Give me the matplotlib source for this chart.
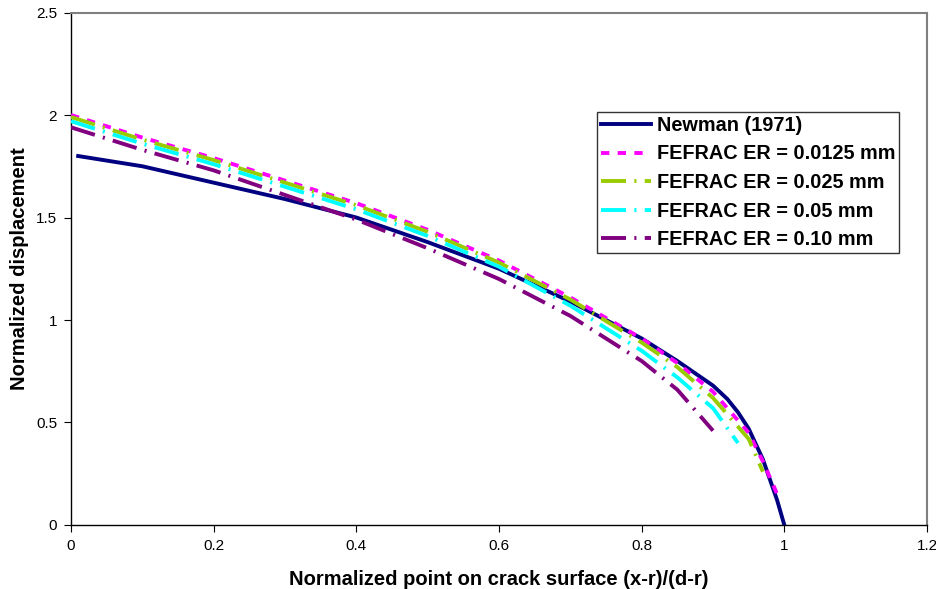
import numpy as np
import matplotlib.pyplot as plt

plt.rcParams['font.family'] = ['Liberation Sans', 'DejaVu Sans']
plt.rcParams['lines.scale_dashes'] = False

# Newman (1971) reference solution
x_newman = [0.01, 0.1, 0.2, 0.3, 0.4, 0.5, 0.6, 0.7, 0.8, 0.85, 0.9, 0.92, 0.935, 0.95, 0.97, 0.99, 1.0]
y_newman = [1.80, 1.75, 1.67, 1.59, 1.50, 1.38, 1.25, 1.09, 0.91, 0.80, 0.68, 0.615, 0.55, 0.47, 0.32, 0.12, 0.0]

# FEFRAC results for different element sizes
x_0125 = [0.0, 0.1, 0.2, 0.3, 0.4, 0.5, 0.6, 0.7, 0.8, 0.85, 0.9, 0.95, 0.97, 0.99]
y_0125 = [2.00, 1.89, 1.79, 1.68, 1.57, 1.44, 1.29, 1.11, 0.91, 0.79, 0.65, 0.45, 0.31, 0.15]

x_025 = [0.0, 0.1, 0.2, 0.3, 0.4, 0.5, 0.6, 0.7, 0.8, 0.85, 0.9, 0.95, 0.97]
y_025 = [1.99, 1.88, 1.78, 1.67, 1.56, 1.43, 1.28, 1.10, 0.89, 0.77, 0.62, 0.42, 0.26]

x_05 = [0.0, 0.1, 0.2, 0.3, 0.4, 0.5, 0.6, 0.7, 0.8, 0.85, 0.9, 0.935]
y_05 = [1.97, 1.86, 1.76, 1.65, 1.54, 1.41, 1.26, 1.07, 0.85, 0.72, 0.57, 0.40]

x_10 = [0.0, 0.1, 0.2, 0.3, 0.4, 0.5, 0.6, 0.7, 0.8, 0.85, 0.9]
y_10 = [1.94, 1.83, 1.73, 1.61, 1.49, 1.35, 1.20, 1.02, 0.80, 0.66, 0.46]

fig = plt.figure(figsize=(9.37, 5.89), dpi=100)
ax = fig.add_axes([0.0758, 0.1087, 0.9135, 0.870])

ax.plot(x_newman, y_newman, color='#000080', lw=2.8, label='Newman (1971)', zorder=3)
ax.plot(x_0125, y_0125, color='#FF00FF', lw=2.8, dashes=(6, 6), label='FEFRAC ER = 0.0125 mm', zorder=4)
ax.plot(x_025, y_025, color='#99CC00', lw=2.8, dashes=(18, 6, 1.5, 6), label='FEFRAC ER = 0.025 mm', zorder=4)
ax.plot(x_05, y_05, color='#00FFFF', lw=2.8, dashes=(18, 6, 1.5, 6), label='FEFRAC ER = 0.05 mm', zorder=4)
ax.plot(x_10, y_10, color='#800080', lw=2.8, dashes=(18, 6, 1.5, 6), label='FEFRAC ER = 0.10 mm', zorder=4)

ax.set_xlim(0, 1.2)
ax.set_ylim(0, 2.5)
ax.set_xticks(np.arange(0, 1.21, 0.2))
ax.set_xticklabels(['0', '0.2', '0.4', '0.6', '0.8', '1', '1.2'])
ax.set_yticks(np.arange(0, 2.51, 0.5))
ax.set_yticklabels(['0', '0.5', '1', '1.5', '2', '2.5'])
ax.tick_params(direction='out', length=5, labelsize=11, pad=5)

for s in ['top', 'right']:
    ax.spines[s].set_color('#808080')
    ax.spines[s].set_linewidth(1.5)
for s in ['left', 'bottom']:
    ax.spines[s].set_color('black')
    ax.spines[s].set_linewidth(1.0)

ax.set_xlabel('Normalized point on crack surface (x-r)/(d-r)', fontsize=14.5, fontweight='bold', labelpad=12)
ax.set_ylabel('Normalized displacement', fontsize=14.5, fontweight='bold', labelpad=5)

leg = ax.legend(loc='upper left', bbox_to_anchor=(0.6145, 0.806), frameon=True, fancybox=False,
                prop={'weight': 'bold', 'size': 14.3}, handlelength=2.5, handletextpad=0.3,
                borderpad=0.2, labelspacing=0.48, borderaxespad=0)
leg.get_frame().set_edgecolor('black')
leg.get_frame().set_linewidth(1.0)

fig.savefig('out.png', dpi=100)
